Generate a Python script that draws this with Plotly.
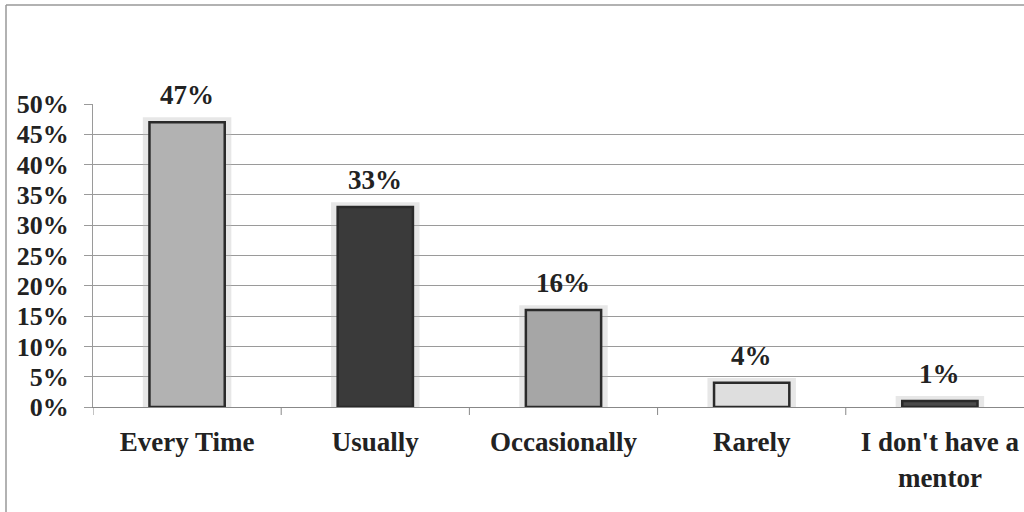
import plotly.graph_objects as go

categories = ["Every Time", "Usually", "Occasionally", "Rarely", "I don't have a<br>mentor"]
values = [47, 33, 16, 4, 1]
labels = ["47%", "33%", "16%", "4%", "1%"]
bar_colors = ["#b2b2b2", "#3a3a3a", "#a6a6a6", "#dedede", "#4a4a4a"]
tick_vals = [0, 5, 10, 15, 20, 25, 30, 35, 40, 45, 50]
tick_text = ["0%", "5%", "10%", "15%", "20%", "25%", "30%", "35%", "40%", "45%", "50%"]

font_family = "Liberation Serif, Times New Roman, serif"
L, T, B, W, H = 93, 104, 105, 1024, 512
PW, PH = W - L, H - T - B

fig = go.Figure()
# soft glow behind bars
fig.add_trace(go.Bar(
    x=categories, y=[v + 0.8 for v in values], width=0.47,
    marker=dict(color="rgba(185,185,185,0.35)", line=dict(width=0)),
    hoverinfo="skip", showlegend=False,
))
fig.add_trace(go.Bar(
    x=categories, y=values, width=0.40,
    marker=dict(color=bar_colors, line=dict(color="#2a2a2a", width=2.5)),
    showlegend=False,
))

for c, v, t in zip(categories, values, labels):
    fig.add_annotation(x=c, y=v, text=t, showarrow=False, yanchor="bottom",
                       yshift=10, font=dict(family=font_family, size=27,
                                            color="#222", weight="bold"))

fig.update_layout(
    width=W, height=H,
    margin=dict(l=L, r=0, t=T, b=B, pad=0),
    paper_bgcolor="white", plot_bgcolor="white",
    barmode="overlay",
    font=dict(family=font_family, color="#222"),
    xaxis=dict(
        range=[-0.5, 4.447],
        showgrid=False, showline=True, linecolor="#888", linewidth=1,
        ticks="", tickfont=dict(family=font_family, size=27, color="#222", weight="bold"),
        ticklabelstandoff=11,
    ),
    yaxis=dict(
        range=[0, 50], tickvals=tick_vals, ticktext=tick_text,
        showgrid=True, gridcolor="#9a9a9a", gridwidth=1,
        showline=True, linecolor="#9a9a9a", linewidth=1,
        ticks="outside", ticklen=8, tickcolor="#9a9a9a",
        tickfont=dict(family=font_family, size=26, color="#222", weight="bold"),
        ticklabelstandoff=10, zeroline=False,
    ),
)

# category boundary ticks on the x axis
for i in range(5):
    fig.add_shape(type="line", xref="x", yref="paper", x0=i - 0.5, x1=i - 0.5,
                  y0=0, y1=-8 / PH, line=dict(color="#888", width=1))

# outer frame (left and top edges)
fx0 = (6 - L) / PW
fy1 = 1 + (T - 5) / PH
fy0 = -(H - T - PH) / PH - 0.01
fig.add_shape(type="line", xref="paper", yref="paper", x0=fx0, x1=fx0,
              y0=fy0, y1=fy1, line=dict(color="#999", width=1.5))
fig.add_shape(type="line", xref="paper", yref="paper", x0=fx0, x1=1.01,
              y0=fy1, y1=fy1, line=dict(color="#999", width=1.5))

fig.write_html("out.html", config={"displayModeBar": False},
               post_script="document.body.style.margin='0';")
